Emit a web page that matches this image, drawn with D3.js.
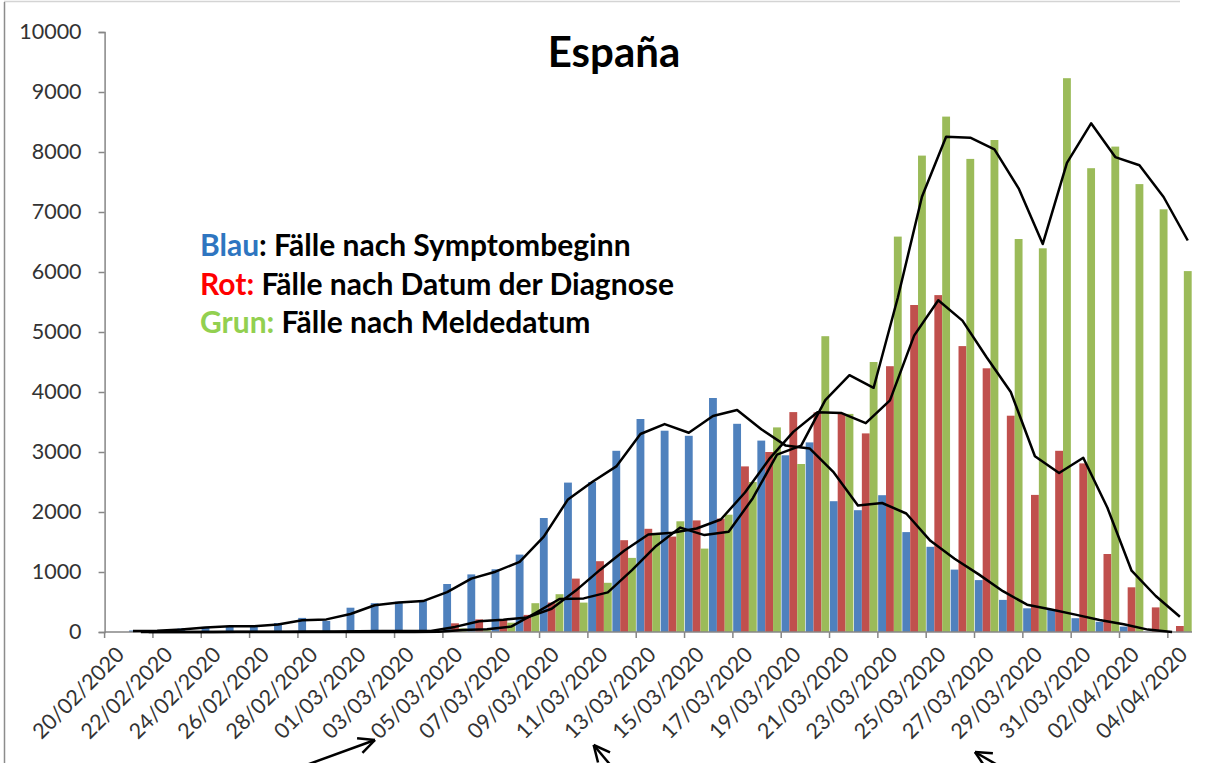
<!DOCTYPE html>
<html>
<head>
<meta charset="utf-8">
<script src="https://cdn.jsdelivr.net/npm/d3@7"></script>
<style>
  body { margin: 0; background: #fff; }
  svg { display: block; }
</style>
</head>
<body>
<div id="chart"></div>
<script>
// dates of the categories (20/02/2020 .. 04/04/2020)
const dates = [
  "20/02/2020","21/02/2020","22/02/2020","23/02/2020","24/02/2020","25/02/2020","26/02/2020",
  "27/02/2020","28/02/2020","29/02/2020","01/03/2020","02/03/2020","03/03/2020","04/03/2020",
  "05/03/2020","06/03/2020","07/03/2020","08/03/2020","09/03/2020","10/03/2020","11/03/2020",
  "12/03/2020","13/03/2020","14/03/2020","15/03/2020","16/03/2020","17/03/2020","18/03/2020",
  "19/03/2020","20/03/2020","21/03/2020","22/03/2020","23/03/2020","24/03/2020","25/03/2020",
  "26/03/2020","27/03/2020","28/03/2020","29/03/2020","30/03/2020","31/03/2020","01/04/2020",
  "02/04/2020","03/04/2020","04/04/2020"
];

// bars
const blau = [0,25,20,60,85,95,90,150,235,185,405,480,505,520,800,960,1045,1290,1900,2490,2500,
  3020,3550,3355,3270,3900,3470,3190,2945,3160,2180,2030,2280,1665,1420,1040,865,535,395,370,230,170,90,5,0];
const rot = [0,0,0,0,0,5,5,5,10,10,15,20,15,20,145,210,200,285,490,890,1180,
  1530,1720,1590,1860,1890,2760,3000,3665,3660,3635,3310,4430,5450,5615,4765,4395,3605,2285,3020,2810,1300,745,410,100];
const grun = [0,0,0,0,0,0,0,0,0,0,0,0,0,10,60,30,155,480,630,490,820,
  1235,1635,1845,1390,1955,2500,3410,2800,4930,3635,4500,6590,7940,8590,7885,8200,6550,6395,9230,7730,8090,7465,7045,6015];

// black smoothing lines (first day has none)
const blauLinie = [null,15,20,40,75,95,95,125,195,210,300,445,490,515,665,890,1005,1170,1590,2210,2500,
  2760,3300,3465,3320,3600,3700,3380,3110,3060,2660,2110,2150,1975,1520,1220,960,680,455,375,290,200,130,40,0];
const rotLinie = [null,0,0,0,0,3,5,5,8,10,12,18,18,18,85,178,205,243,388,690,1035,
  1355,1625,1655,1725,1875,2325,2880,3335,3662,3648,3480,3860,4940,5530,5190,4580,4000,2930,2650,2905,2070,1022,600,255];
const grunLinie = [null,0,0,0,0,0,0,0,0,0,0,0,0,5,35,45,90,315,550,560,660,
  1030,1435,1740,1615,1670,2230,2955,3105,3865,4280,4070,5570,7255,8255,8238,8045,7395,6467,7820,8478,7915,7780,7250,6525];

const yTicks = [0,1000,2000,3000,4000,5000,6000,7000,8000,9000,10000];

const series = [
  { key: "blau", values: blau, line: blauLinie, color: "#4f81bd" },
  { key: "rot", values: rot, line: rotLinie, color: "#c0504d" },
  { key: "grun", values: grun, line: grunLinie, color: "#9bbb59" }
];

const width = 1206, height = 763;
const plotLeft = 104.6, plotRight = 1192, plotTop = 32, plotBottom = 632;
const font = "Lato, 'DejaVu Sans', sans-serif";

const svg = d3.select("#chart").append("svg")
  .attr("width", width)
  .attr("height", height)
  .attr("viewBox", [0, 0, width, height]);

// frame remains of the cropped picture
svg.append("line").attr("x1", 4).attr("x2", 1180).attr("y1", 1.5).attr("y2", 1.5)
  .attr("stroke", "#d4d4d4").attr("stroke-width", 1.5);
svg.append("line").attr("x1", 4.5).attr("x2", 4.5).attr("y1", 2).attr("y2", height)
  .attr("stroke", "#8c8c8c").attr("stroke-width", 1.5);

const x = d3.scaleBand().domain(dates).range([plotLeft, plotRight]).padding(0);
const x1 = d3.scaleBand().domain(series.map(s => s.key)).range([0, x.bandwidth()]).paddingOuter(0.04);
const y = d3.scaleLinear().domain([0, 10000]).range([plotBottom, plotTop]);

// bars
series.forEach(s => {
  svg.append("g")
    .attr("fill", s.color)
    .selectAll("rect")
    .data(dates.map((d, i) => ({ d, v: s.values[i] })))
    .join("rect")
    .attr("x", p => x(p.d) + x1(s.key))
    .attr("width", x1.bandwidth())
    .attr("y", p => y(p.v))
    .attr("height", p => y(0) - y(p.v));
});

// y axis
const yAxis = svg.append("g")
  .attr("transform", `translate(${plotLeft},0)`)
  .call(d3.axisLeft(y).tickValues(yTicks).tickSize(6).tickPadding(17).tickFormat(d3.format("d")));
yAxis.select(".domain").attr("stroke", "#868686").attr("stroke-width", 1.5);
yAxis.selectAll(".tick line").attr("stroke", "#868686").attr("stroke-width", 1.5);
yAxis.selectAll("text")
  .attr("font-family", font)
  .attr("font-size", 21.5)
  .attr("fill", "#333");

// x axis: ticks every two days on category edges, labels centred on the day
const xAxis = svg.append("g");
xAxis.append("line")
  .attr("x1", plotLeft).attr("x2", plotRight).attr("y1", y(0)).attr("y2", y(0))
  .attr("stroke", "#868686").attr("stroke-width", 1.5);
const labelDates = dates.filter((d, i) => i % 2 === 0);
xAxis.selectAll(".xt")
  .data(labelDates)
  .join("line")
  .attr("class", "xt")
  .attr("x1", d => x(d)).attr("x2", d => x(d))
  .attr("y1", y(0)).attr("y2", y(0) + 6)
  .attr("stroke", "#868686").attr("stroke-width", 1.5);
xAxis.selectAll(".xl")
  .data(labelDates)
  .join("text")
  .attr("class", "xl")
  .attr("text-anchor", "end")
  .attr("transform", d => `translate(${x(d) + x.bandwidth() / 2 + 9},${y(0) + 24}) rotate(-45)`)
  .attr("font-family", font)
  .attr("font-size", 21.5)
  .attr("fill", "#333")
  .text(d => d);

// moving average lines
const line = d3.line()
  .defined(p => p.v != null)
  .x(p => p.cx)
  .y(p => y(p.v));

series.forEach(s => {
  const pts = dates.map((d, i) => ({ cx: x(d) + x1(s.key) + x1.bandwidth() / 2, v: s.line[i] }));
  svg.append("path")
    .datum(pts)
    .attr("fill", "none")
    .attr("stroke", "#000")
    .attr("stroke-width", 2.5)
    .attr("stroke-linejoin", "round")
    .attr("d", line);
});

// title
svg.append("text")
  .attr("x", 614).attr("y", 67)
  .attr("text-anchor", "middle")
  .attr("font-family", font)
  .attr("font-weight", "bold")
  .attr("font-size", 42)
  .attr("fill", "#000")
  .text("España");

// legend text
const legend = [
  { name: "Blau", rest: ": Fälle nach Symptombeginn", color: "#2e75c0" },
  { name: "Rot:", rest: " Fälle nach Datum der Diagnose", color: "#ff0000" },
  { name: "Grun:", rest: " Fälle nach Meldedatum", color: "#92d050" }
];
const lg = svg.append("g")
  .attr("font-family", font)
  .attr("font-weight", "bold")
  .attr("font-size", 30);
legend.forEach((l, i) => {
  const t = lg.append("text").attr("x", 200).attr("y", 256 + i * 38.5).attr("xml:space", "preserve");
  t.append("tspan").attr("fill", l.color).text(l.name);
  t.append("tspan").attr("fill", "#000").text(l.rest);
});

// arrows pointing at date labels (tip offset from the label's day, tail direction in degrees)
const arrowDefs = [
  { date: "05/03/2020", dx: -80, dy: 108, len: 72, angle: 200 },
  { date: "15/03/2020", dx: -103, dy: 113, len: 30, angle: -50 },
  { date: "29/03/2020", dx: -60, dy: 120, len: 30, angle: -30 }
];
const arrows = svg.append("g").attr("stroke", "#000").attr("stroke-width", 2.5).attr("fill", "none");
arrowDefs.forEach(a => {
  const tx = x(a.date) + x.bandwidth() / 2 + a.dx;
  const ty = y(0) + a.dy;
  const rad = a.angle * Math.PI / 180;
  const sx = tx + Math.cos(rad) * a.len;
  const sy = ty - Math.sin(rad) * a.len;
  arrows.append("line").attr("x1", sx).attr("y1", sy).attr("x2", tx).attr("y2", ty);
  const back = Math.atan2(sy - ty, sx - tx);
  [0.45, -0.45].forEach(o => {
    arrows.append("line")
      .attr("x1", tx).attr("y1", ty)
      .attr("x2", tx + Math.cos(back + o) * 18)
      .attr("y2", ty + Math.sin(back + o) * 18);
  });
});
</script>
</body>
</html>
